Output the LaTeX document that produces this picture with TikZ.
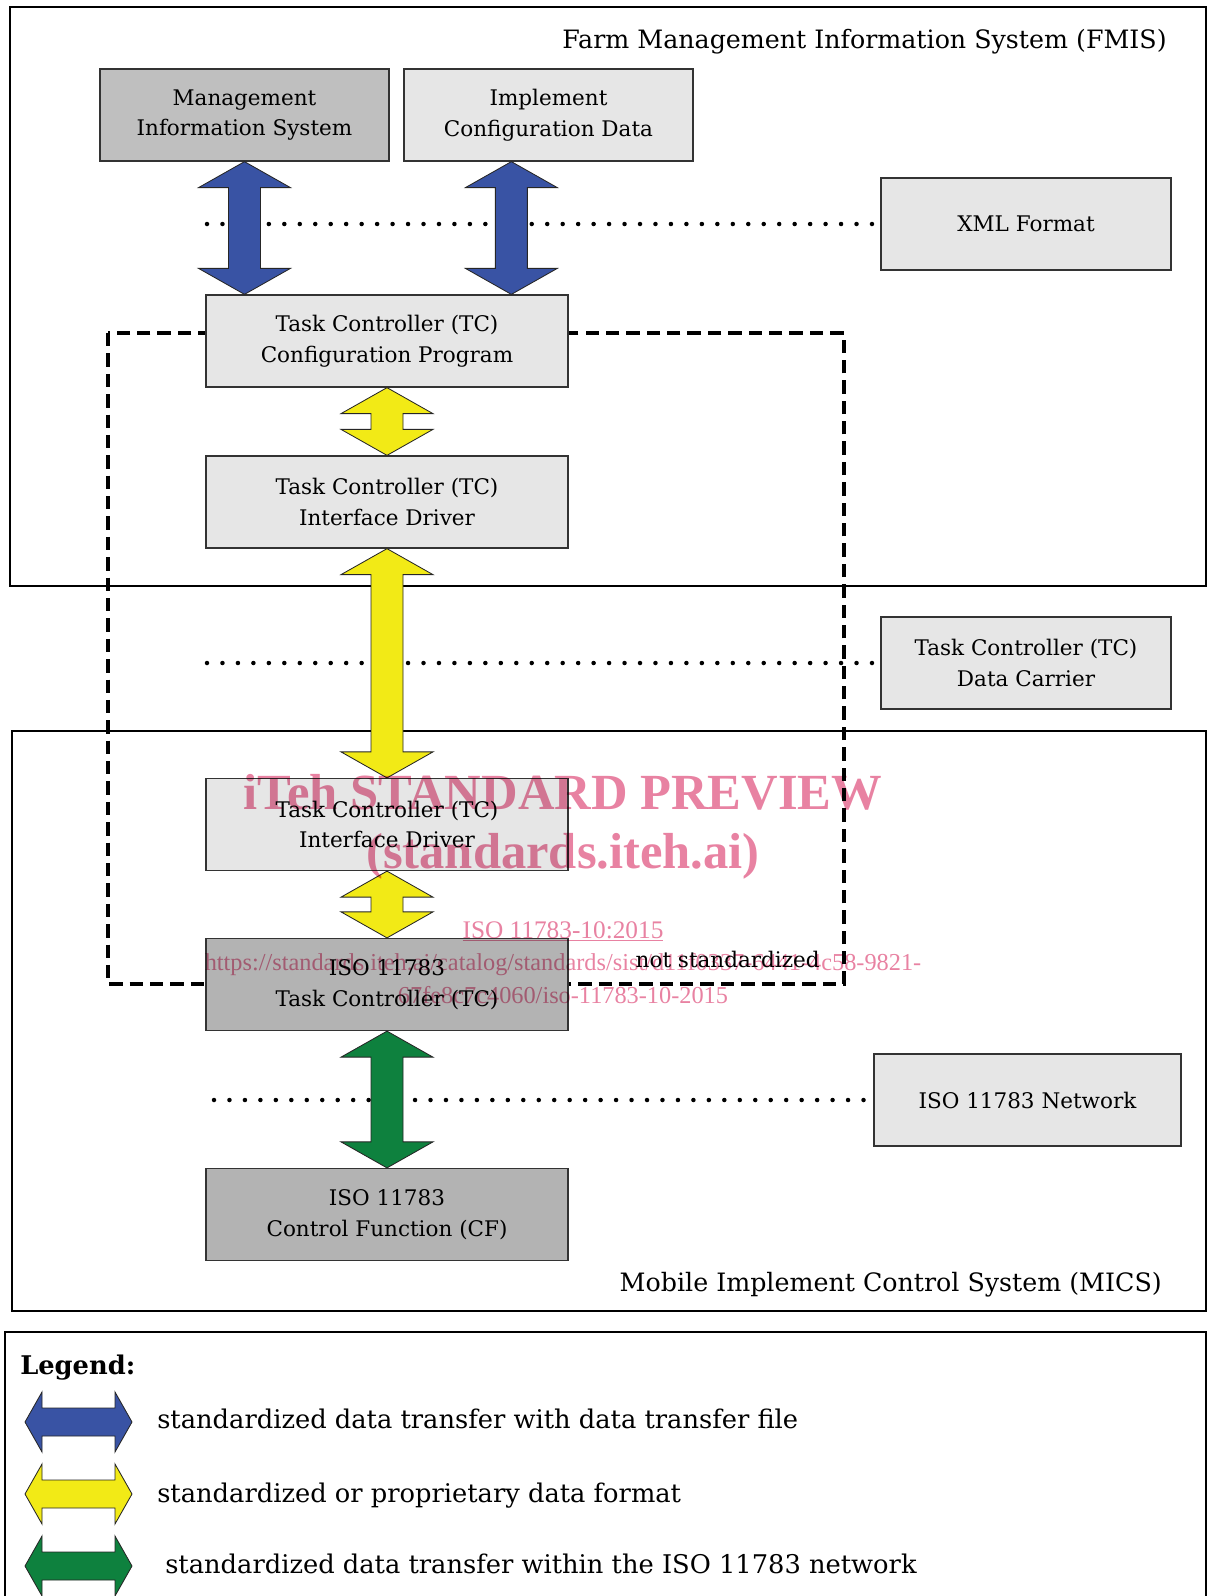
\documentclass[tikz,border=0pt]{standalone}
\usepackage{fontspec}
\setmainfont{DejaVu Serif}
\newfontfamily\wmfont{Liberation Serif}
\usetikzlibrary{calc}
\definecolor{arrblue}{RGB}{57,83,164}
\definecolor{arryellow}{RGB}{242,234,22}
\definecolor{arrgreen}{RGB}{14,129,62}
\definecolor{boxlight}{RGB}{230,230,230}
\definecolor{boxmid}{RGB}{191,191,191}
\definecolor{boxdark}{RGB}{179,179,179}
\definecolor{wmpink}{RGB}{232,130,162}
\def\vdarrow[#1](#2)(#3){\draw[#1] (#2) -- ($(#2)+(46,26)$) -- ($(#2)+(16,26)$) -- ($(#3)+(16,-26)$) -- ($(#3)+(46,-26)$) -- (#3) -- ($(#3)+(-46,-26)$) -- ($(#3)+(-16,-26)$) -- ($(#2)+(-16,26)$) -- ($(#2)+(-46,26)$) -- cycle;}
\def\hdarrow[#1](#2)(#3){\draw[#1] (#2) -- ($(#2)+(17,-30)$) -- ($(#2)+(17,-14)$) -- ($(#3)+(-17,-14)$) -- ($(#3)+(-17,-30)$) -- (#3) -- ($(#3)+(-17,30)$) -- ($(#3)+(-17,14)$) -- ($(#2)+(17,14)$) -- ($(#2)+(17,30)$) -- cycle;}
\tikzset{
	frame/.style={draw=black, line width=1.4pt},
	blk/.style={draw=black!80, line width=0.9pt, minimum width=#1, minimum height=23mm, inner sep=0pt, align=center, font=\fontsize{15.3}{21.7}\selectfont},
	dashline/.style={line width=2.3pt, dash pattern=on 9.5pt off 5pt},
	dotline/.style={line width=3.2pt, line cap=round, dash pattern=on 0pt off 11pt},
	blueArr/.style={fill=arrblue, draw=black!85, line width=0.6pt},
	yellowArr/.style={fill=arryellow, draw=black!85, line width=0.6pt},
	greenArr/.style={fill=arrgreen, draw=black!85, line width=0.6pt},
	titletext/.style={inner sep=0pt, font=\fontsize{18}{22}\selectfont},
	legtext/.style={inner sep=0pt, anchor=base west, font=\fontsize{18.3}{22}\selectfont},
	wm/.style={inner sep=0pt, anchor=base, text=wmpink}
}

\begin{document}
\begin{tikzpicture}[x=0.25mm, y=-0.25mm]
		%%%%% START %%%%%
		\useasboundingbox (0,0) rectangle (1208,1596);
		
		\draw[frame] (10,7) rectangle (1206,586);
		\draw[frame] (12,731) rectangle (1206,1311);
		\draw[frame] (1206,1596) -- (1206,1332) -- (5,1332) -- (5,1596);
		
		\draw[dashline] (108,333) rectangle (844,984);
		
		\node[titletext, anchor=base east] (fmis) at (1167,48) {Farm Management Information System (FMIS)};
		\node[titletext, anchor=base east] (mics) at (1162,1291) {Mobile Implement Control System (MICS)};
		
		\node[blk=72.25mm, fill=boxmid] (mis) at (244.5,115) {Management\\Information System};
		\node[blk=72.25mm, fill=boxlight] (icd) at (548.5,115) {Implement\\Configuration Data};
		\node[blk=72.5mm, fill=boxlight] (xmlf) at (1026,224) {XML Format};
		\node[blk=90.5mm, fill=boxlight] (cfg) at (387,341) {Task Controller (TC)\\Configuration Program};
		\node[blk=90.5mm, fill=boxlight] (drvup) at (387,502) {Task Controller (TC)\\Interface Driver};
		\node[blk=72.5mm, fill=boxlight] (carrier) at (1026,663) {Task Controller (TC)\\Data Carrier};
		\node[blk=90.5mm, fill=boxlight] (drvlo) at (387,824.5) {Task Controller (TC)\\Interface Driver};
		\node[blk=90.5mm, fill=boxdark] (isotc) at (387,984.5) {ISO 11783\\Task Controller (TC)};
		\node[blk=76.75mm, fill=boxlight] (net) at (1027.5,1100) {ISO 11783 Network};
		\node[blk=90.5mm, fill=boxdark] (cf) at (387,1214.5) {ISO 11783\\Control Function (CF)};
		
		\node[inner sep=0pt, anchor=base east, font=\fontsize{15.3}{21.7}\selectfont] (nostd) at (820,967) {not standardized};
		
		\coordinate (dotA) at (207,224);
		\coordinate (dotB) at (207,663);
		\coordinate (dotC) at (214,1100);
		\draw[dotline] (dotA) -- (xmlf.west);
		\draw[dotline] (dotB) -- (carrier.west);
		\draw[dotline] (dotC) -- (net.west);
		
		\coordinate (blAtop) at (mis.south);
		\coordinate (blAbot) at (mis.south |- cfg.north);
		\coordinate (blBtop) at ($(icd.south west)+(108,0)$);
		\coordinate (blBbot) at (blBtop |- cfg.north);
		\vdarrow[blueArr](blAtop)(blAbot);
		\vdarrow[blueArr](blBtop)(blBbot);
		\vdarrow[yellowArr](cfg.south)(drvup.north);
		\vdarrow[yellowArr](drvup.south)(drvlo.north);
		\vdarrow[yellowArr](drvlo.south)(isotc.north);
		\vdarrow[greenArr](isotc.south)(cf.north);
		
		% legend
		\node[legtext, font=\fontsize{18.3}{22}\selectfont\bfseries] (legend) at (20,1374) {Legend:};
		\hdarrow[blueArr](25,1422)(132,1422);
		\hdarrow[yellowArr](25,1494)(132,1494);
		\hdarrow[greenArr](25,1566)(132,1566);
		\node[legtext] (legA) at (157,1428) {standardized data transfer with data transfer file};
		\node[legtext] (legB) at (157,1502) {standardized or proprietary data format};
		\node[legtext] (legC) at (165,1573) {standardized data transfer within the ISO 11783 network};
		
		% preview stamp
		\begin{scope}[blend mode=multiply]
			\node[wm, font=\wmfont\bfseries\fontsize{36}{40}\selectfont] (wmA) at (563,809) {iTeh STANDARD PREVIEW};
			\node[wm, font=\wmfont\bfseries\fontsize{36}{40}\selectfont] (wmB) at (563,868) {(standards.iteh.ai)};
			\node[wm, font=\wmfont\fontsize{18}{22}\selectfont] (wmC) at (563,938) {\underline{ISO 11783-10:2015}};
			\node[wm, font=\wmfont\fontsize{17.3}{23.5}\selectfont] (wmD) at (563,970) {https://standards.iteh.ai/catalog/standards/sist/d11f0337-6441-4c58-9821-};
			\node[wm, font=\wmfont\fontsize{17.3}{23.5}\selectfont] (wmE) at (563,1003) {67fe8c7c4060/iso-11783-10-2015};
		\end{scope}
		
		%%%%% END %%%%%
\end{tikzpicture}
\end{document}
